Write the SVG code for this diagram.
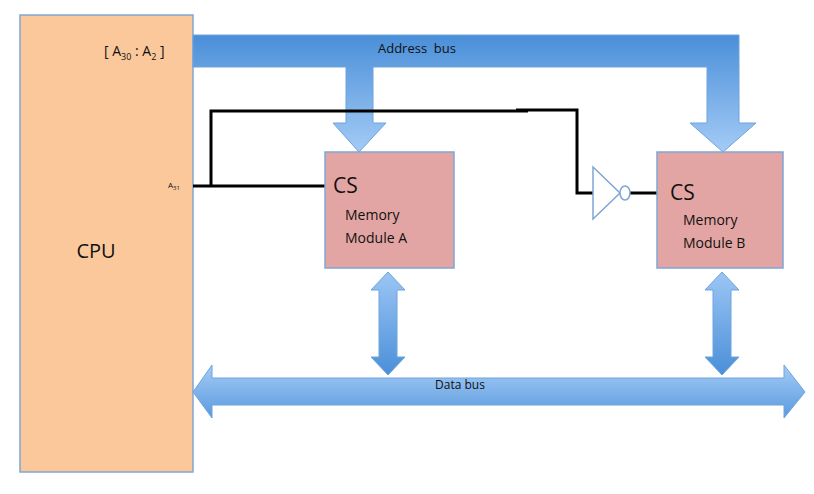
<svg xmlns="http://www.w3.org/2000/svg" width="814" height="494" viewBox="0 0 814 494">
<defs>
<linearGradient id="gv" x1="0" y1="0" x2="0" y2="1"><stop offset="0" stop-color="#4a8fd8"/><stop offset="1" stop-color="#a4cbf6"/></linearGradient>
<linearGradient id="gd" x1="0" y1="0" x2="0" y2="1"><stop offset="0" stop-color="#9cc6f5"/><stop offset="1" stop-color="#4a8fd8"/></linearGradient>
<linearGradient id="gh" x1="0" y1="0" x2="0" y2="1"><stop offset="0" stop-color="#a4cbf6"/><stop offset="1" stop-color="#5a9ade"/></linearGradient>
</defs>
<style>
text{font-family:"Open Sans","Liberation Sans",sans-serif;fill:#111}
.bus{stroke:#6fa3dc;stroke-width:1}
.w{fill:none;stroke:#000;stroke-width:3}
.mod{fill:#e3a5a3;stroke:#7fa6d6;stroke-width:1.5}
</style>
<g id="cpu"><rect x="20" y="15" width="173" height="457" fill="#fbc89c" stroke="#7fa6d6" stroke-width="1.5"/>
<text x="96" y="258" font-size="20" text-anchor="middle">CPU</text>
<text x="104" y="56" font-size="14">[ A<tspan font-size="9" dy="4">30</tspan><tspan dy="-4"> : A</tspan><tspan font-size="9" dy="4">2</tspan><tspan dy="-4"> ]</tspan></text>
<text x="168" y="188" font-size="8">A<tspan font-size="6" dy="2">31</tspan></text>
</g>
<g id="connectors">
<path class="bus" fill="url(#gv)" d="M193,35 H739 V123 H756 L723,152 L690,123 H707 V67 H373 V123 H386 L359,152 L333,123 H346 V67 H193 Z"/>
<text x="417" y="53" font-size="13" text-anchor="middle">Address&#160; bus</text>
<path class="bus" fill="url(#gd)" d="M388,272 L405,290 H397 V357 H405 L388,375 L371,357 H379 V290 H371 Z"/>
<path class="bus" fill="url(#gd)" d="M722,272 L739,290 H731 V357 H739 L722,375 L705,357 H713 V290 H705 Z"/>
<path class="bus" fill="url(#gh)" d="M193,392 L212,365 V378 H784 V365 L805,392 L784,418 V405 H212 V418 Z"/>
<text x="460" y="389" font-size="12" text-anchor="middle">Data bus</text>
<path class="w" d="M193,186 H211 V111 H528 M211,186 H325 M516,110 H577 V193 H593"/>
<path class="w" d="M630,193 H657"/>
<path d="M593,167 V219 L620,193 Z" fill="#fff" stroke="#7fa6d6" stroke-width="1.5"/>
<ellipse cx="625" cy="193" rx="5" ry="7" fill="#fff" stroke="#7fa6d6" stroke-width="1.5"/>
</g>
<g id="moduleA"><rect class="mod" x="325" y="152" width="129" height="116"/>
<text x="333" y="193" font-size="21">CS</text>
<text x="345" y="220" font-size="14">Memory</text>
<text x="345" y="243" font-size="14">Module A</text></g>
<g id="moduleB"><rect class="mod" x="657" y="152" width="126" height="116"/>
<text x="670" y="200" font-size="21">CS</text>
<text x="683" y="225" font-size="14">Memory</text>
<text x="683" y="248" font-size="14">Module B</text></g>
</svg>
